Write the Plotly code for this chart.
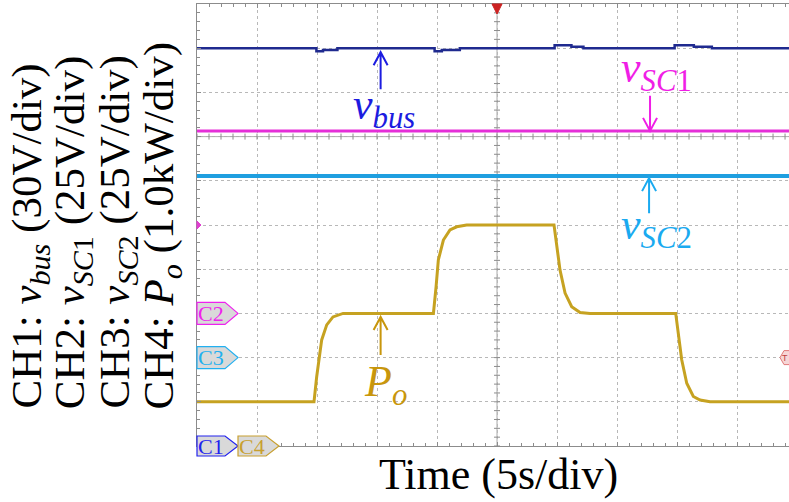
import plotly.graph_objects as go

# ---------------- data ----------------
# time base 5 s/div; the screen is cropped at the right side
T_END = 49.33

# channel scale (units/div) and ground level (div from bottom)
scale_vbus, ground_vbus = 30.0, 0.0
scale_vsc1, ground_vsc1 = 25.0, 3.0
scale_vsc2, ground_vsc2 = 25.0, 2.0
scale_po, ground_po = 1.0, 0.0

# CH1: DC bus voltage (V)
vbus_t = [0, 9.95, 10.5, 11.7, 19.8, 20.4, 21.9, 29.8, 31.2, 32.2, 39.8, 41.4, 42.9, 49.33]
vbus_v = [270, 268, 268.8, 270, 268, 268.8, 270, 272, 271, 270, 272, 271, 270, 270]

# CH2: SC1 voltage (V)
vsc1_t = [0, 25.0, 49.33]
vsc1_v = [103.2, 103.2, 103.2]

# CH3: SC2 voltage (V)
vsc2_t = [0, 25.0, 49.33]
vsc2_v = [102.7, 102.7, 102.7]

# CH4: output power (kW)
po_t = [0, 9.75, 9.97, 10.39, 10.81, 11.33, 12.17, 19.70, 19.92, 20.11, 20.53, 21.08, 21.64, 22.47,
        29.75, 29.97, 30.25, 30.67, 31.22, 31.92, 32.75, 39.89, 40.11, 40.39, 40.81, 41.36, 41.92,
        42.75, 49.33]
po_v = [1.0, 1.0, 1.56, 2.40, 2.74, 2.92, 3.0, 3.0, 3.60, 4.21, 4.66, 4.89, 4.96, 5.0,
        5.0, 4.51, 3.98, 3.46, 3.15, 3.02, 3.0, 3.0, 2.55, 1.95, 1.42, 1.12, 1.04,
        1.0, 1.0]

channel_labels = [
    "CH1: <i>v</i><sub><i>bus</i></sub> (30V/div)",
    "CH2: <i>v</i><sub><i>SC</i>1</sub> (25V/div)",
    "CH3: <i>v</i><sub><i>SC</i>2</sub> (25V/div)",
    "CH4: <i>P</i><sub><i>o</i></sub> (1.0kW/div)",
]
x_title = "Time (5s/div)"

# ---------------- styling ----------------
C_BUS = "#1f2a8f"
C_BUS_TXT = "#1c1ce0"
C_SC1 = "#e52fd8"
C_SC1_TXT = "#f01ee6"
C_SC2 = "#1f9fe0"
C_SC2_TXT = "#1aaaf0"
C_PO = "#c6a221"
C_PO_TXT = "#c8960c"
GRID = "#b8b8b8"
AXC = "#8c8c8c"
SERIF = "Liberation Serif"


def to_div(vals, sc, gnd):
    return [v / sc + gnd for v in vals]


fig = go.Figure()

# crosshair minor ticks (decoration built from axis units)
tx, ty = [], []
hx = 3 * T_END / 592.0
hy = 3 * 10.0 / 442.0
k = 0.0
while k <= T_END:
    tx += [k, k, None]
    ty += [7 - hy, 7 + hy, None]
    k += 1.0
k = 0.0
while k <= 10.0001:
    tx += [25 - hx, 25 + hx, None]
    ty += [k, k, None]
    k += 0.2
fig.add_trace(go.Scatter(x=tx, y=ty, mode="lines", line=dict(color=AXC, width=1),
                         hoverinfo="skip", showlegend=False))

fig.add_trace(go.Scatter(x=po_t, y=to_div(po_v, scale_po, ground_po), mode="lines",
                         line=dict(color=C_PO, width=3), name="Po", showlegend=False))
fig.add_trace(go.Scatter(x=vsc2_t, y=to_div(vsc2_v, scale_vsc2, ground_vsc2), mode="lines",
                         line=dict(color=C_SC2, width=4), name="vSC2", showlegend=False))
fig.add_trace(go.Scatter(x=vsc1_t, y=to_div(vsc1_v, scale_vsc1, ground_vsc1), mode="lines",
                         line=dict(color=C_SC1, width=3), name="vSC1", showlegend=False))
fig.add_trace(go.Scatter(x=vbus_t, y=to_div(vbus_v, scale_vbus, ground_vbus), mode="lines",
                         line=dict(color=C_BUS, width=2.5, shape="hv"), name="vbus", showlegend=False))

shapes = []
# crosshair lines
shapes.append(dict(type="line", xref="x", yref="y", x0=25, x1=25, y0=0, y1=10,
                   line=dict(color="#a8a8a8", width=1), layer="below"))
shapes.append(dict(type="line", xref="x", yref="y", x0=0, x1=T_END, y0=7, y1=7,
                   line=dict(color="#a8a8a8", width=1), layer="below"))


def pix_path(xa, ya, path, fill, line, width=1.2):
    # anchored in paper fraction so that the marks are not clipped by the plot area
    return dict(type="path", xref="paper", yref="paper", xsizemode="pixel", ysizemode="pixel",
                xanchor=xa / T_END, yanchor=ya / 10.0, path=path, fillcolor=fill,
                line=dict(color=line, width=width))


marker_path = "M0,-11 L28,-11 L41,0 L28,11 L0,11 Z"
marker_path2 = "M41,-10 L69,-10 L82,0 L69,10 L41,10 Z"
shapes.append(pix_path(0, ground_vsc1, marker_path, "#d9d9d9", "#ee22ee"))
shapes.append(pix_path(0, ground_vsc2, marker_path, "#d9d9d9", "#22b0f0"))
shapes.append(pix_path(0, ground_vbus, "M0,-10 L28,-10 L41,0 L28,10 L0,10 Z", "#d9d9d9", "#2222ee"))
shapes.append(pix_path(0, ground_po, marker_path2, "#d9d9d9", "#c8a030"))
# small offset marker on the left edge
shapes.append(pix_path(0, 5, "M0,-4 L4,0 L0,4 Z", "#e040d0", "#e040d0", 1))
# trigger position marker on the top
shapes.append(pix_path(25, 10, "M-5,0 L5,0 L0,-10 Z", "#cc2222", "#cc2222", 1))
# trigger level marker on the right
shapes.append(pix_path(T_END, 2, "M-9,0 L-5,-7 L6,-7 L6,7 L-5,7 Z", "#f6d6d6", "#e07a7a", 1))

# arrows (open V heads)
shapes.append(pix_path(15.3, 8.91, "M0,0 L0,-37 M-7,-13 L0,0 L7,-13", "rgba(0,0,0,0)", C_BUS_TXT, 2))
shapes.append(pix_path(37.75, 7.13, "M0,0 L0,35 M-7,13 L0,0 L7,13", "rgba(0,0,0,0)", C_SC1_TXT, 2))
shapes.append(pix_path(37.67, 6.06, "M0,0 L0,-35 M-7,-13 L0,0 L7,-13", "rgba(0,0,0,0)", C_SC2_TXT, 2))
shapes.append(pix_path(15.3, 2.92, "M0,0 L0,-38 M-7,-13 L0,0 L7,-13", "rgba(0,0,0,0)", C_PO_TXT, 2))

annotations = []
# channel marker texts
for lab, yv, col, xs in [("C2", ground_vsc1, "#ee22ee", 14), ("C3", ground_vsc2, "#22b0f0", 14),
                         ("C1", ground_vbus, "#2222ee", 14), ("C4", ground_po, "#c8a030", 55)]:
    annotations.append(dict(x=0, y=yv, xref="x", yref="y", text=lab, showarrow=False,
                            xanchor="center", yanchor="middle", xshift=xs,
                            font=dict(family=SERIF, size=22, color=col)))
annotations.append(dict(x=T_END, y=2, xref="x", yref="y", text="T", showarrow=False,
                        xanchor="right", yanchor="middle", xshift=1,
                        font=dict(family="Liberation Sans", size=9, color="#c04040")))

# trace labels
lab_font = lambda c: dict(family=SERIF, size=44, color=c)
annotations.append(dict(x=12.83, y=7.65, xref="x", yref="y", text="<i>v</i><sub><i>bus</i></sub>",
                        showarrow=False, xanchor="left", yanchor="middle", font=lab_font(C_BUS_TXT)))
annotations.append(dict(x=35.17, y=8.5, xref="x", yref="y", text="<i>v</i><sub><i>SC</i>1</sub>",
                        showarrow=False, xanchor="left", yanchor="middle", font=lab_font(C_SC1_TXT)))
annotations.append(dict(x=35.17, y=4.95, xref="x", yref="y", text="<i>v</i><sub><i>SC</i>2</sub>",
                        showarrow=False, xanchor="left", yanchor="middle", font=lab_font(C_SC2_TXT)))
annotations.append(dict(x=13.75, y=1.40, xref="x", yref="y", text="<i>P</i><sub><i>o</i></sub>",
                        showarrow=False, xanchor="left", yanchor="middle", font=lab_font(C_PO_TXT)))

# left rotated channel descriptions
for i, txt in enumerate(channel_labels):
    px = 29 + 44.3 * i
    annotations.append(dict(x=(px - 197) / 592.0, y=(446 - 411) / 442.0, xref="paper", yref="paper",
                            text=txt, textangle=-90, showarrow=False, xanchor="center",
                            yanchor="bottom", font=dict(family=SERIF, size=43, color="black")))

annotations.append(dict(x=(498 - 197) / 592.0, y=(446 - 474) / 442.0, xref="paper", yref="paper",
                        text=x_title, showarrow=False, xanchor="center", yanchor="middle",
                        font=dict(family=SERIF, size=44, color="black")))

fig.update_layout(
    width=789, height=502, autosize=False,
    margin=dict(l=197, r=0, t=4, b=56),
    paper_bgcolor="white", plot_bgcolor="white",
    shapes=shapes, annotations=annotations,
    xaxis=dict(range=[0, T_END], dtick=5, tick0=0, showgrid=True, gridcolor=GRID, griddash="dot",
               gridwidth=1, zeroline=False, showticklabels=False, ticks="inside", ticklen=4,
               tickcolor=AXC, showline=True, linecolor=AXC, linewidth=1, mirror="ticks",
               minor=dict(dtick=1, ticks="inside", ticklen=3, tickcolor=AXC, showgrid=False)),
    yaxis=dict(range=[0, 10], dtick=1, tick0=0, showgrid=True, gridcolor=GRID, griddash="dot",
               gridwidth=1, zeroline=False, showticklabels=False, ticks="inside", ticklen=4,
               tickcolor=AXC, showline=True, linecolor=AXC, linewidth=1, mirror=False,
               minor=dict(dtick=0.2, ticks="inside", ticklen=3, tickcolor=AXC, showgrid=False)),
)

fig.write_html("out.html")
